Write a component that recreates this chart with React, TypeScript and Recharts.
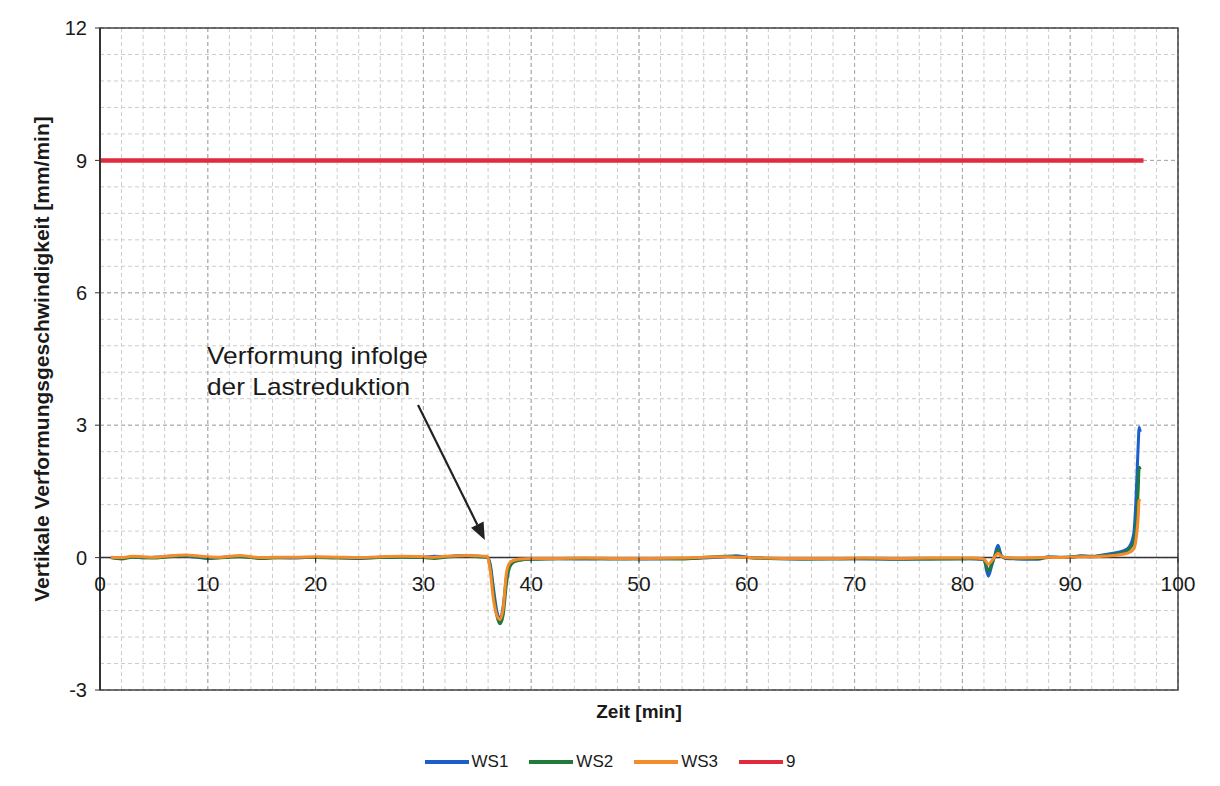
import { CartesianGrid, Line, LineChart, ReferenceArea, ReferenceLine, XAxis, YAxis } from "recharts";

// Zeit [min]
const time = [
  1, 2, 3, 4, 5, 6, 7, 8, 9, 10, 11, 12, 13, 14, 15, 16,
  18, 20, 22, 24, 26, 28, 30,
  31, 32, 33, 34, 35,
  35.9, 36.2, 36.5, 36.8, 37.1, 37.4, 37.7, 38.0, 38.4,
  39, 40, 42, 45, 48, 51, 54, 56, 58, 59, 60, 62, 65, 68, 71, 74, 77, 80, 81, 82,
  82.4, 82.7, 83.0, 83.3, 83.6, 84, 85,
  87, 88, 89, 90, 91, 92, 93, 94, 95,
  95.5, 95.9, 96.1, 96.3, 96.4, 96.5,
];

// Vertikale Verformungsgeschwindigkeit [mm/min]
const ws1 = [
  0.0, -0.02, 0.02, -0.01, 0.01, 0.02, 0.04, 0.03, 0.01, -0.02, 0.0, 0.02, 0.03, 0.01, -0.01, 0.0,
  -0.01, 0.01, 0.0, -0.02, 0.01, 0.02, 0.01,
  0.03, 0.02, 0.04, 0.05, 0.03,
  0.02, -0.15, -0.7, -1.2, -1.38, -1.1, -0.45, -0.18, -0.08,
  -0.05, -0.03, -0.02, -0.03, -0.02, -0.03, -0.02, -0.01, 0.02, 0.04, 0.01, -0.02, -0.03, -0.02, -0.03, -0.04, -0.03, -0.02, -0.03, -0.05,
  -0.42, -0.2, 0.05, 0.28, 0.05, -0.02, -0.03,
  -0.04, 0.02, 0.01, 0.0, 0.04, 0.03, 0.06, 0.1, 0.16,
  0.25, 0.55, 1.3, 2.5, 2.95, 2.85,
];
const ws2 = [
  0.0, -0.03, 0.01, 0.0, -0.01, 0.01, 0.03, 0.05, 0.02, -0.01, -0.01, 0.01, 0.02, 0.0, -0.02, -0.01,
  0.0, 0.0, -0.01, -0.01, 0.0, 0.01, 0.0,
  -0.02, 0.01, 0.03, 0.04, 0.02,
  0.01, -0.2, -0.8, -1.3, -1.5, -1.3, -0.6, -0.22, -0.1,
  -0.06, -0.04, -0.03, -0.02, -0.03, -0.02, -0.03, 0.0, 0.03, 0.02, 0.0, -0.02, -0.03, -0.03, -0.02, -0.03, -0.03, -0.03, -0.02, -0.04,
  -0.3, -0.15, 0.02, 0.18, 0.04, -0.01, -0.02,
  -0.02, 0.0, 0.0, 0.02, 0.03, 0.02, 0.04, 0.07, 0.12,
  0.2, 0.35, 0.7, 1.5, 2.05, 2.0,
];
const ws3 = [
  0.01, 0.0, 0.03, 0.02, 0.01, 0.03, 0.05, 0.06, 0.04, 0.02, 0.01, 0.03, 0.05, 0.02, 0.0, 0.01,
  0.01, 0.02, 0.01, 0.0, 0.02, 0.03, 0.02,
  0.01, 0.03, 0.04, 0.05, 0.04,
  0.03, -0.3, -0.95, -1.3, -1.4, -1.15, -0.35, -0.12, -0.06,
  -0.03, -0.02, -0.02, -0.01, -0.02, -0.02, -0.01, 0.01, 0.02, 0.01, 0.0, -0.01, -0.02, -0.02, -0.01, -0.02, -0.01, -0.01, -0.01, -0.03,
  -0.15, -0.08, 0.02, 0.1, 0.03, 0.0, -0.01,
  0.0, 0.01, 0.0, 0.01, 0.02, 0.02, 0.03, 0.05, 0.08,
  0.12, 0.2, 0.4, 0.9, 1.3, 1.28,
];

// Grenzwert 9 mm/min
const limitTime = [0, 96.8];
const limitValue = [9, 9];

const xTicks = [0, 10, 20, 30, 40, 50, 60, 70, 80, 90, 100];
const yTicks = [-3, 0, 3, 6, 9, 12];
const xMinor = Array.from({ length: 51 }, (_, i) => i * 2);
const yMinor = Array.from({ length: 26 }, (_, i) => -3 + i * 0.6);

const series = [
  { key: "ws1", name: "WS1", color: "#1b5fc8" },
  { key: "ws2", name: "WS2", color: "#1f7a3c" },
  { key: "ws3", name: "WS3", color: "#f68b2c" },
];
const limitColor = "#e12a3e";

const rows = time.map((t, i) => ({ t, ws1: ws1[i], ws2: ws2[i], ws3: ws3[i] }));
const limitRows = limitTime.map((t, i) => ({ t, limit: limitValue[i] }));

const W = 1220;
const H = 786;
const TOP = 28;
const PLOT_H = 662;
const ZERO_Y = TOP + (PLOT_H * 12) / 15;

const toPx = (axis: any, v: number, lo: number, hi: number, start: number, len: number) =>
  axis && typeof axis.scale === "function" ? axis.scale(v) : start + ((v - lo) / (hi - lo)) * len;

const gridX = (values: number[]) => ({ xAxis, offset }: any) =>
  values.map((v) => toPx(xAxis, v, 0, 100, offset.left, offset.width));
const gridY = (values: number[]) => ({ yAxis, offset }: any) =>
  values.map((v) => toPx(yAxis, v, 12, -3, offset.top, offset.height));

function XTick({ x, payload }: any) {
  return (
    <g>
      <line x1={x} x2={x} y1={ZERO_Y} y2={ZERO_Y + 5} stroke="#333" strokeWidth={1.2} />
      <text x={x} y={ZERO_Y + 33} textAnchor="middle" fontSize={21} fill="#1a1a1a">
        {payload.value}
      </text>
    </g>
  );
}

function Annotation({ x1, y1, x2, y2 }: any) {
  const dx = x2 - x1;
  const dy = y2 - y1;
  const len = Math.hypot(dx, dy) || 1;
  const ux = dx / len;
  const uy = dy / len;
  const bx = x2 - ux * 17;
  const by = y2 - uy * 17;
  const head = `${x2},${y2} ${bx - uy * 7},${by + ux * 7} ${bx + uy * 7},${by - ux * 7}`;
  return (
    <g>
      <line x1={x1} y1={y1} x2={bx} y2={by} stroke="#222" strokeWidth={2.2} />
      <polygon points={head} fill="#222" />
      <text x={x1 - 211} y={y1 - 41} fontSize={24} fill="#1a1a1a" textLength={221} lengthAdjust="spacingAndGlyphs">
        Verformung infolge
      </text>
      <text x={x1 - 211} y={y1 - 10} fontSize={24} fill="#1a1a1a" textLength={203} lengthAdjust="spacingAndGlyphs">
        der Lastreduktion
      </text>
    </g>
  );
}

function LegendRow() {
  const items = [...series.map((s) => ({ name: s.name, color: s.color })), { name: "9", color: limitColor }];
  return (
    <div
      style={{
        position: "absolute",
        top: 752,
        left: 0,
        width: W,
        display: "flex",
        justifyContent: "center",
        gap: 21,
        fontSize: 17,
        color: "#1a1a1a",
      }}
    >
      {items.map((it) => (
        <div key={it.name} style={{ display: "flex", alignItems: "center" }}>
          <span style={{ display: "inline-block", width: 44, height: 4, background: it.color, marginRight: 3 }} />
          <span>{it.name}</span>
        </div>
      ))}
    </div>
  );
}

export default function App() {
  return (
    <div
      style={{
        position: "absolute",
        left: 0,
        top: 0,
        width: W,
        height: H,
        background: "#fff",
        fontFamily: '"Liberation Sans", Arial, sans-serif',
      }}
    >
      <LineChart width={W} height={H} data={rows} margin={{ top: TOP, right: 42, left: 40, bottom: 66 }}>
        <CartesianGrid
          stroke="#cccccc"
          strokeDasharray="4 3"
          verticalCoordinatesGenerator={gridX(xMinor)}
          horizontalCoordinatesGenerator={gridY(yMinor)}
        />
        <CartesianGrid
          stroke="#a8a8a8"
          strokeDasharray="4 3"
          verticalCoordinatesGenerator={gridX(xTicks)}
          horizontalCoordinatesGenerator={gridY(yTicks)}
        />
        <XAxis
          dataKey="t"
          type="number"
          domain={[0, 100]}
          ticks={xTicks}
          axisLine={false}
          tickLine={false}
          tick={<XTick />}
          height={30}
          label={{ value: "Zeit [min]", position: "insideBottom", offset: 2, fontSize: 19, fontWeight: 700, fill: "#1a1a1a" }}
        />
        <YAxis
          type="number"
          domain={[-3, 12]}
          ticks={yTicks}
          width={60}
          tickSize={5}
          tickMargin={8}
          tick={{ fontSize: 20, fill: "#1a1a1a" }}
          axisLine={{ stroke: "#333", strokeWidth: 2 }}
          tickLine={{ stroke: "#333" }}
          label={{
            value: "Vertikale Verformungsgeschwindigkeit [mm/min]",
            angle: -90,
            position: "insideLeft",
            offset: 2,
            style: { textAnchor: "middle" },
            fontSize: 21,
            fontWeight: 700,
            fill: "#1a1a1a",
          }}
        />
        <ReferenceArea x1={0} x2={100} y1={-3} y2={12} fill="none" stroke="#444" strokeWidth={1.5} />
        <ReferenceLine y={0} stroke="#333" strokeWidth={1.5} />
        {series.map((s) => (
          <Line
            key={s.key}
            dataKey={s.key}
            name={s.name}
            type="monotone"
            stroke={s.color}
            strokeWidth={3}
            dot={false}
            isAnimationActive={false}
          />
        ))}
        <Line
          data={limitRows}
          dataKey="limit"
          name="9"
          type="linear"
          stroke={limitColor}
          strokeWidth={4.5}
          dot={false}
          isAnimationActive={false}
        />
        <ReferenceLine
          segment={[
            { x: 29.5, y: 3.46 },
            { x: 35.7, y: 0.4 },
          ]}
          shape={<Annotation />}
        />
      </LineChart>
      <LegendRow />
    </div>
  );
}
